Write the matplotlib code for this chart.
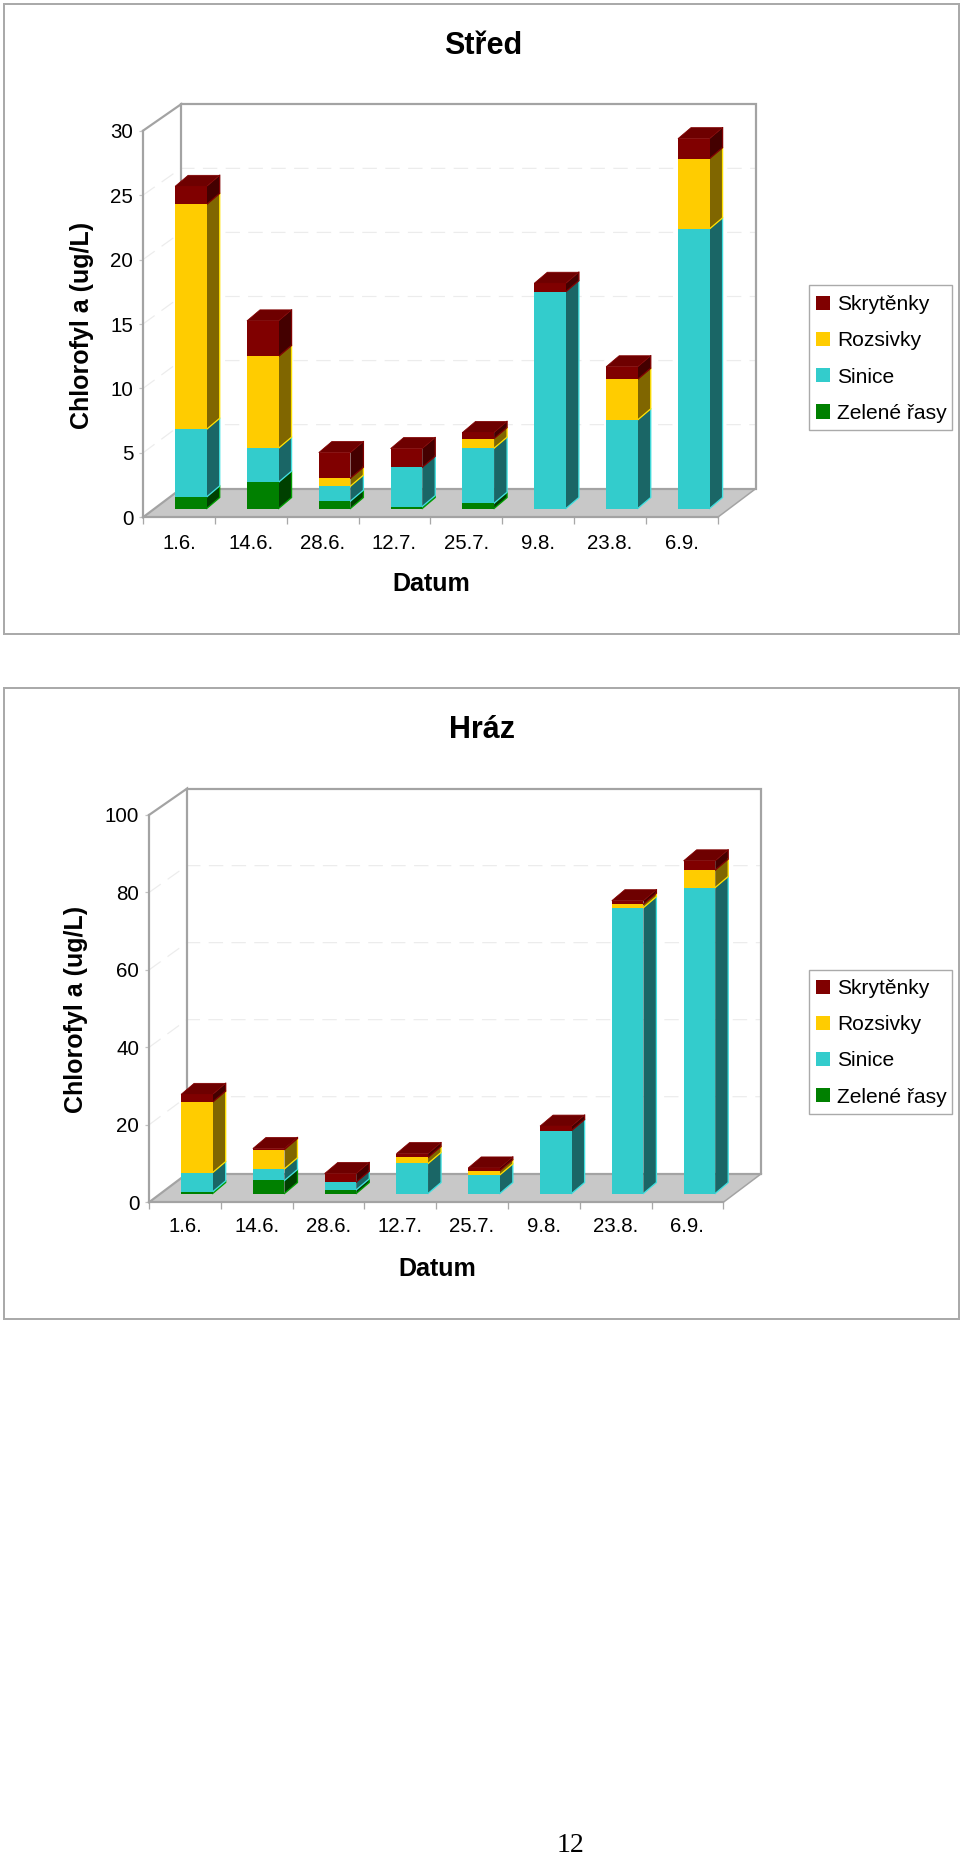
import matplotlib
matplotlib.use("Agg")
import matplotlib.pyplot as plt
from matplotlib.patches import Rectangle, Patch

plt.rcParams['font.family'] = ['Liberation Sans', 'DejaVu Sans']

W, H = 960, 1857
DPI = 100
PT = 72 / DPI

dates = ["1.6.", "14.6.", "28.6.", "12.7.", "25.7.", "9.8.", "23.8.", "6.9."]
series_names = ["Zelené řasy", "Sinice", "Rozsivky", "Skrytěnky"]
front_colors = ["#008000", "#33cccc", "#ffcc00", "#800000"]
side_colors = ["#004000", "#1a6666", "#806600", "#440000"]
edge_colors = ["#00a000", "#40e0e0", "#ffe000", "#800000"]
top_color = "#6e0000"

stred_zelene = [0.9, 2.04, 0.57, 0.15, 0.41, 0, 0, 0]
stred_sinice = [5.25, 2.64, 1.16, 3.05, 4.27, 16.83, 6.88, 21.7]
stred_rozsivky = [17.45, 7.12, 0.62, 0, 0.75, 0, 3.15, 5.45]
stred_skrytenky = [1.4, 2.76, 1.99, 1.45, 0.47, 0.65, 0.97, 1.55]

hraz_zelene = [0.43, 3.36, 0.95, 0, 0, 0, 0, 0]
hraz_sinice = [4.97, 3.01, 1.98, 7.75, 4.8, 16.26, 73.8, 79.0]
hraz_rozsivky = [18.2, 4.99, 0, 1.55, 1.1, 0, 0.9, 4.5]
hraz_skrytenky = [2.0, 0.25, 2.23, 1.0, 0.7, 1.14, 0.9, 2.4]

stred_ticks = [0, 5, 10, 15, 20, 25, 30]
hraz_ticks = [0, 20, 40, 60, 80, 100]

GRAY = "#a3a3a3"
fig = plt.figure(figsize=(W / DPI, H / DPI), dpi=DPI, facecolor="white")


def fx(px):
    return px / W


def fy(py):
    return 1 - py / H


def chart(title, title_xy, series, ticks, left, right, y0, ytop, frame, legend_box,
          legend_row, xlabel_xy, ylabel_xy, xpad):
    ax = fig.add_axes([fx(left), fy(y0), (right - left) / W, (y0 - ytop) / H])
    vmax = ticks[-1]
    n = len(dates)
    ax.set_xlim(0, n)
    ax.set_ylim(0, vmax)
    ax.patch.set_visible(False)
    ux = n / (right - left)            # data units per pixel, x
    uy = vmax / (y0 - ytop)            # data units per pixel, y
    DX, DY = 38 * ux, 28.6 * uy        # wall depth at the floor
    DYT = 26.4 * uy                    # wall depth at the top
    OX, OY = 12 * ux, 8.8 * uy         # bar front plane inside the depth
    BX, BY = 13 * ux, 11 * uy          # bar depth
    bw = 0.44

    # frame
    fig.add_artist(Rectangle((fx(frame[0]), fy(frame[3])), (frame[2] - frame[0]) / W,
                             (frame[3] - frame[1]) / H, transform=fig.transFigure,
                             fc="none", ec="#aaaaaa", lw=2 * PT))

    # floor
    ax.fill([0, n, n + DX, DX], [0, 0, DY, DY], fc="#c8c8c8", ec="none", zorder=1, clip_on=False)

    # gridlines on the walls
    for t in ticks[1:-1]:
        back = t + DY + (DYT - DY) * t / vmax
        ax.plot([0, DX, n + DX], [t, back, back], color="#ececec", lw=1.2 * PT,
                ls=(0, (12, 7)), zorder=1, clip_on=False)

    # wall outline
    kw = dict(color=GRAY, lw=2.2 * PT, zorder=2, clip_on=False, solid_joinstyle="miter")
    ax.plot([0, DX, DX], [vmax, vmax + DYT, DY], **kw)
    ax.plot([DX, n + DX, n + DX, DX], [vmax + DYT, vmax + DYT, DY, DY], **kw)
    ax.plot([0, DX], [0, DY], **kw)
    ax.plot([n, n + DX], [0, DY], color=GRAY, lw=1.5 * PT, zorder=2, clip_on=False)

    # stacked bars
    bottoms = [0.0] * n
    handles = []
    for s, vals in enumerate(series):
        for i, v in enumerate(vals):
            if v <= 0:
                continue
            x0 = i + 0.5 + OX - bw / 2
            x1 = x0 + bw
            b = bottoms[i] + OY
            zo = 3 + i
            ax.bar(x0, v, bw, bottom=b, align="edge", color=front_colors[s], lw=0,
                   zorder=zo + 0.2, clip_on=False)
            ax.fill([x1, x1 + BX, x1 + BX, x1], [b, b + BY, b + v + BY, b + v],
                    fc=side_colors[s], ec="none", zorder=zo + 0.1, clip_on=False)
            ax.plot([x1, x1 + BX, x1 + BX], [b, b + BY, b + v + BY], color=edge_colors[s],
                    lw=1.3 * PT, zorder=zo + 0.15, clip_on=False, solid_joinstyle="miter")
            bottoms[i] += v
        handles.append(Patch(fc=front_colors[s], ec="none", label=series_names[s]))
    for i, top in enumerate(bottoms):
        x0 = i + 0.5 + OX - bw / 2
        x1 = x0 + bw
        b = top + OY
        ax.fill([x0, x1, x1 + BX, x0 + BX], [b, b, b + BY, b + BY], fc=top_color, ec="#800000",
                lw=0.8 * PT, zorder=3.3 + i, clip_on=False)

    # axes
    for side in ("top", "right"):
        ax.spines[side].set_visible(False)
    for side in ("left", "bottom"):
        ax.spines[side].set_color(GRAY)
        ax.spines[side].set_linewidth(2.2 * PT)
        ax.spines[side].set_zorder(2.5)
    ax.set_xticks([i + 0.5 for i in range(n)], dates)
    ax.set_xticks(range(n + 1), minor=True)
    ax.tick_params(axis="x", which="major", length=0, pad=xpad, labelsize=14.7, labelcolor="black")
    ax.tick_params(axis="x", which="minor", length=5, width=1.3 * PT, color="#a8a8a8")
    ax.set_yticks(ticks)
    ax.tick_params(axis="y", length=3, width=1.2 * PT, color="#c4c4c4", pad=4, labelsize=14.8)

    ax.set_xlabel("Datum", fontsize=18.1, fontweight="bold")
    ax.xaxis.set_label_coords(fx(xlabel_xy[0]), fy(xlabel_xy[1]), transform=fig.transFigure)
    ax.xaxis.label.set_verticalalignment("center")
    ax.set_ylabel("Chlorofyl a (ug/L)", fontsize=18, fontweight="bold")
    ax.yaxis.set_label_coords(fx(ylabel_xy[0]), fy(ylabel_xy[1]), transform=fig.transFigure)
    ax.yaxis.label.set_verticalalignment("center")

    fig.text(fx(title_xy[0]), fy(title_xy[1]), title, fontsize=22, fontweight="bold",
             ha="center", va="center")

    # legend: frame drawn separately because its padding is wider vertically than horizontally
    lx0, ly0, lx1, ly1 = legend_box
    fig.add_artist(Rectangle((fx(lx0), fy(ly1)), (lx1 - lx0) / W, (ly1 - ly0) / H,
                             transform=fig.transFigure, fc="white", ec="#aaaaaa",
                             lw=1.4 * PT, zorder=5))
    leg = fig.legend(handles=handles[::-1], loc="upper left",
                     bbox_to_anchor=(fx(lx0 + 6.4), fy(legend_row)),
                     bbox_transform=fig.transFigure, borderaxespad=0, frameon=False,
                     fontsize=15.1, handlelength=0.67, handleheight=0.67, handletextpad=0.34,
                     labelspacing=0.82, borderpad=0)
    leg.set_zorder(6)


chart("Střed", (483, 46.5),
      [stred_zelene, stred_sinice, stred_rozsivky, stred_skrytenky], stred_ticks,
      143, 717.7, 517.3, 130.7, (3.5, 4, 959, 633.7), (809.3, 285.3, 952, 430.3), 295.2,
      (431, 584), (82, 325), 12.3)
chart("Hráz", (482, 730.5),
      [hraz_zelene, hraz_sinice, hraz_rozsivky, hraz_skrytenky], hraz_ticks,
      149, 723.3, 1202.3, 815, (3.5, 688, 959, 1318.5), (809.3, 969.7, 952, 1114), 979,
      (437, 1269), (76, 1009), 10.7)

fig.text(fx(570.7), fy(1846), "12", family="Liberation Serif", fontsize=20, ha="center", va="center")

fig.savefig("out.png", dpi=DPI, facecolor="white")
